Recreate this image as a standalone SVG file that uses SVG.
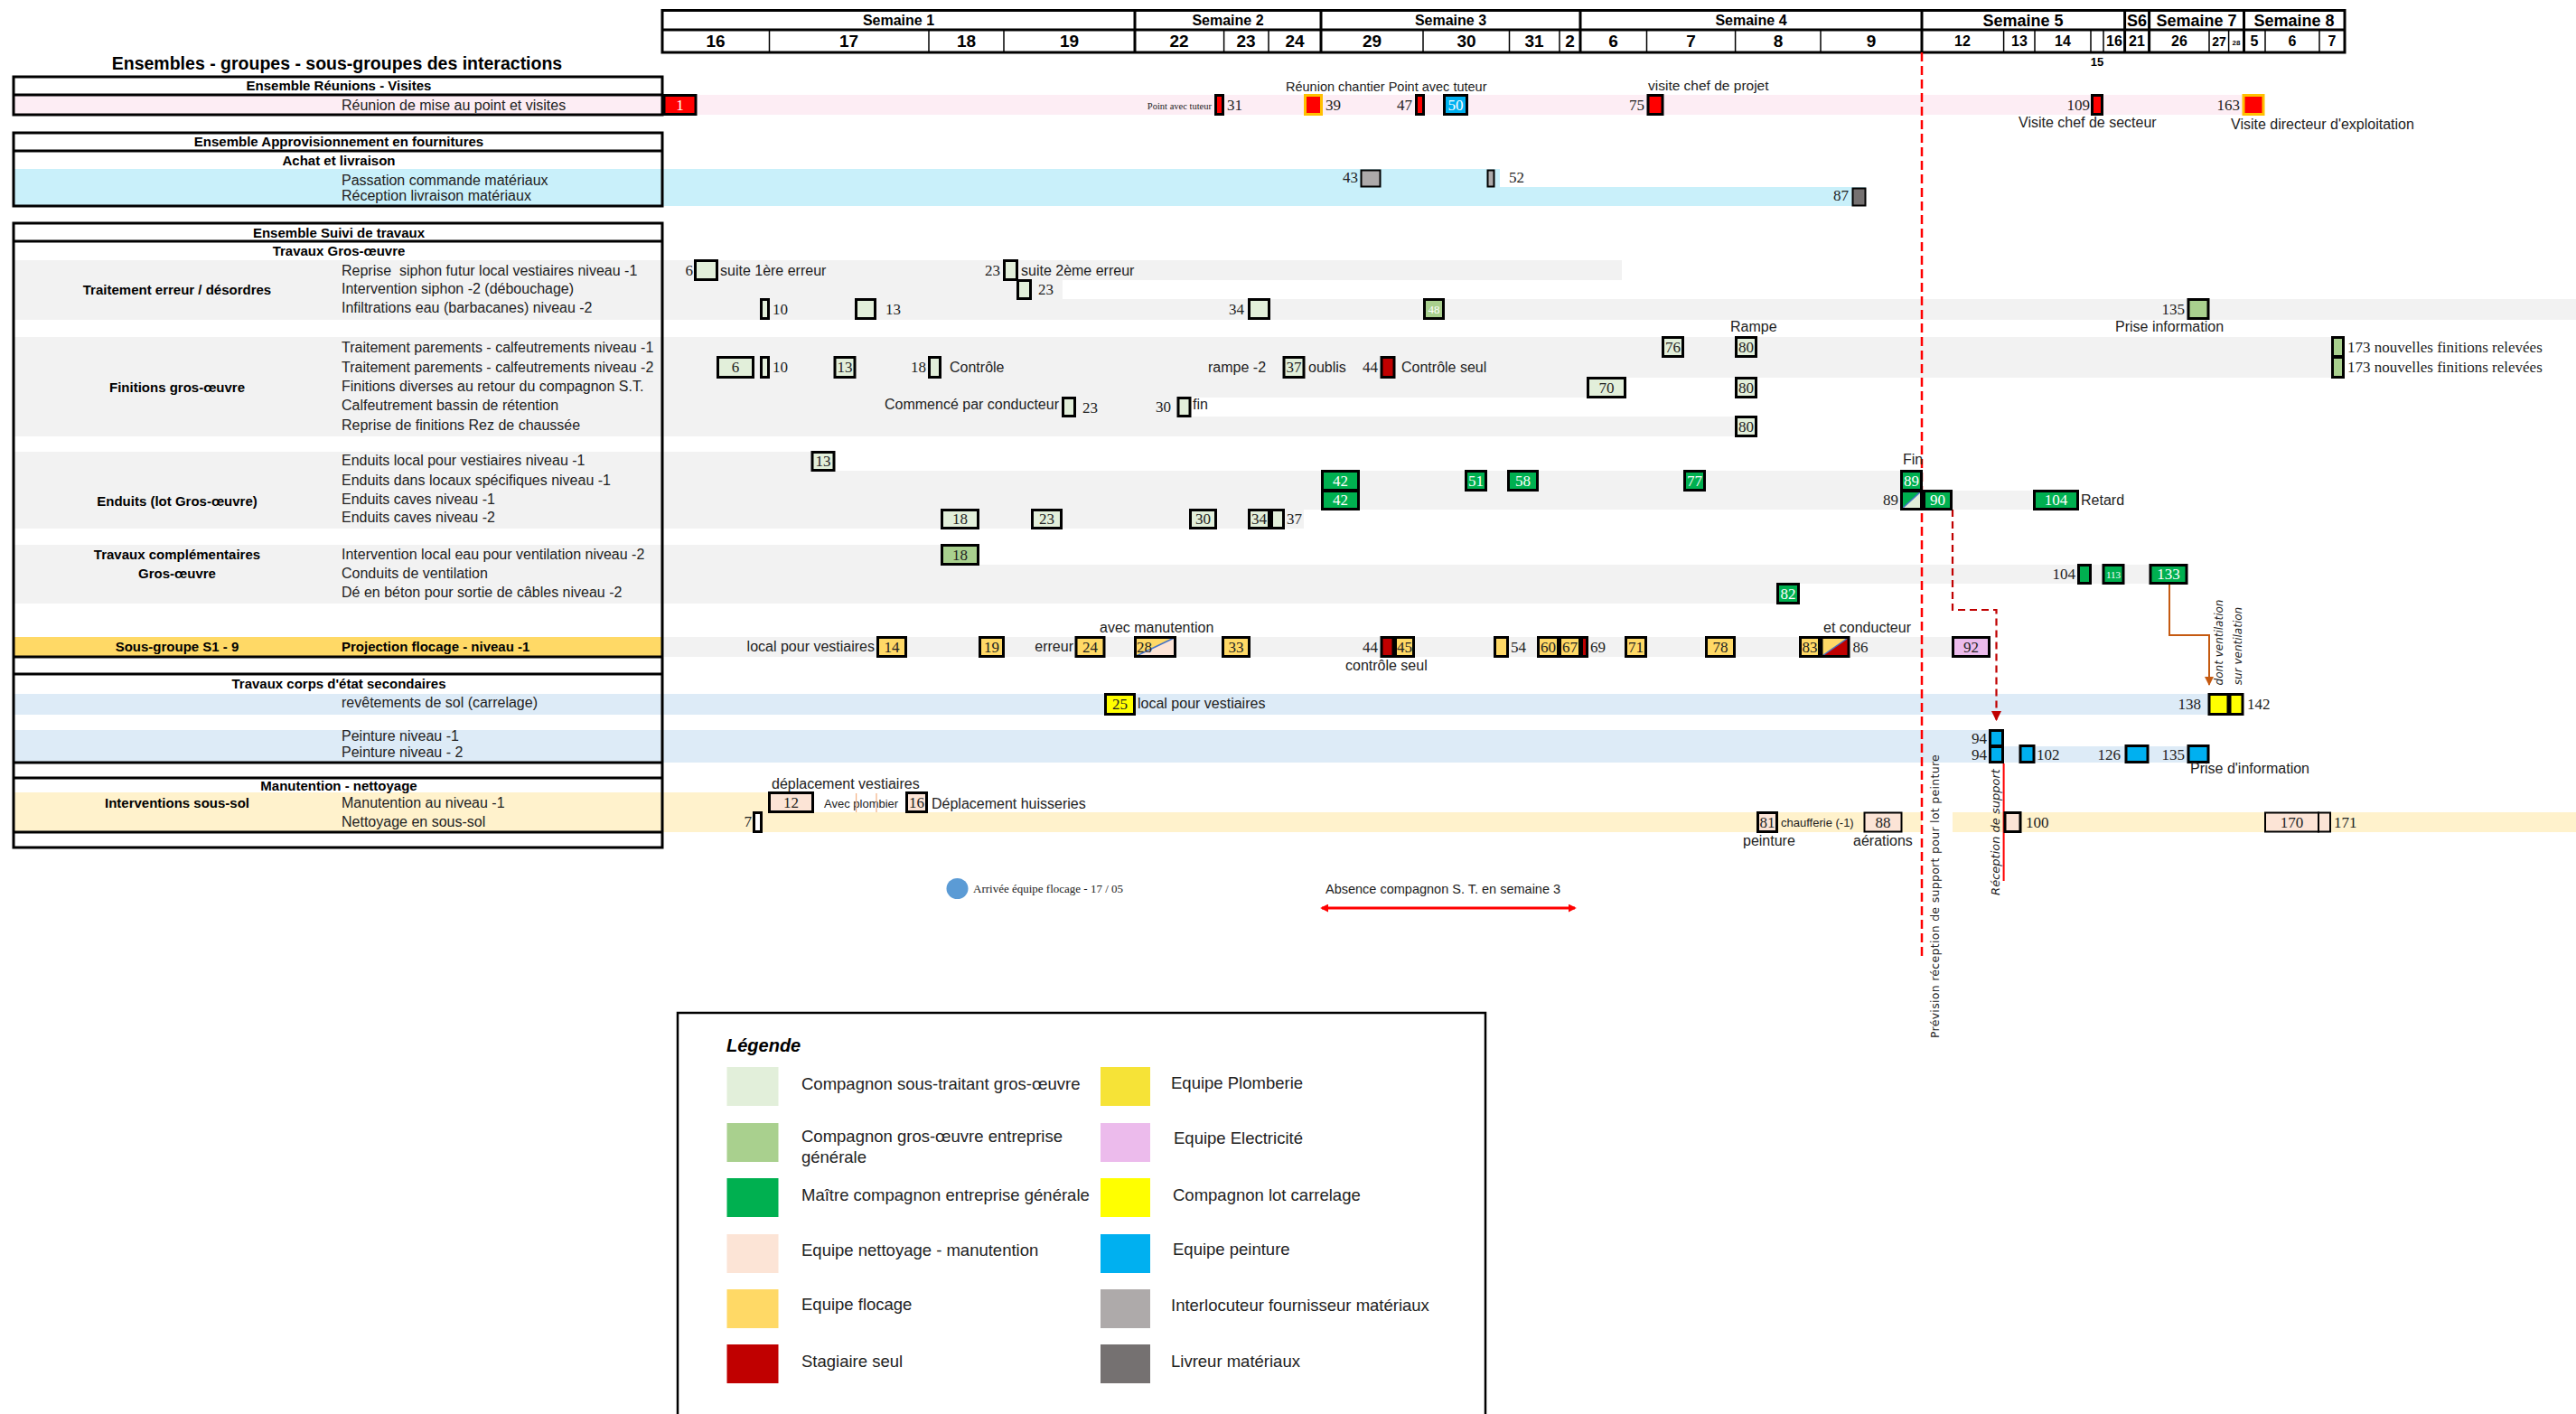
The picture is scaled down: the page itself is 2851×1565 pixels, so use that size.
<svg xmlns="http://www.w3.org/2000/svg" width="2851" height="1565" viewBox="0 0 2851 1565">
<defs>
<style>
.t{font-family:'Liberation Sans Narrow','Liberation Sans',Arial,sans-serif;font-size:16px;fill:#222}
.tb{font-family:'Liberation Sans Narrow','Liberation Sans',Arial,sans-serif;font-weight:bold;font-size:15px;fill:#000}
.n{font-family:'Liberation Serif','Times New Roman',serif;font-size:17px;fill:#222}
.nw{font-family:'Liberation Serif','Times New Roman',serif;font-size:17px;fill:#fff}
.m{text-anchor:middle}.e{text-anchor:end}
.rot{font-family:'DejaVu Sans',Verdana,sans-serif;font-size:12px;fill:#222}
.bx{stroke:#000;stroke-width:3}
.b2{stroke:#000;stroke-width:2}
.lg{fill:#e2efda}.mg{fill:#a9d08e}.dg{fill:#00b050}.pe{fill:#fce4d6}.fl{fill:#ffd966}.sr{fill:#c00000}.rr{fill:#ff0000}.pb{fill:#f6e337}.el{fill:#ecbbec}.ca{fill:#ffff00}.pt{fill:#00b0f0}.gi{fill:#aeaaaa}.gd{fill:#757171}
.gb{fill:#f2f2f2}.bb{fill:#ddebf7}.cb{fill:#fff2cc}
.ln{stroke:#000;stroke-width:3}
.dl{stroke:#000;stroke-width:1.5}
</style>
<marker id="arDr" viewBox="0 0 10 10" refX="9" refY="5" markerWidth="5" markerHeight="5" orient="auto"><path d="M0,0 L10,5 L0,10 z" fill="#c00000"/></marker>
<marker id="arOr" viewBox="0 0 10 10" refX="9" refY="5" markerWidth="5" markerHeight="5" orient="auto"><path d="M0,0 L10,5 L0,10 z" fill="#c55a11"/></marker>
<marker id="arRd" viewBox="0 0 10 10" refX="8" refY="5" markerWidth="3" markerHeight="3" orient="auto-start-reverse"><path d="M0,0 L10,5 L0,10 z" fill="#ff0000"/></marker>
</defs>
<rect width="2851" height="1565" fill="#fff"/>

<!-- chart background bands -->
<g id="bands">
<rect x="733" y="105" width="1773" height="22" fill="#fdedf4"/>
<rect x="733" y="187" width="927" height="20" fill="#c9f0fa"/>
<rect x="733" y="207" width="1332" height="21" fill="#c9f0fa"/>
<rect x="733" y="288" width="1062" height="22" class="gb"/>
<rect x="733" y="310" width="443" height="21" class="gb"/>
<rect x="733" y="331" width="2118" height="23" class="gb"/>
<rect x="733" y="373" width="1862" height="45" class="gb"/>
<rect x="733" y="418" width="1067" height="22" class="gb"/>
<rect x="733" y="440" width="585" height="21" class="gb"/>
<rect x="733" y="461" width="1212" height="22" class="gb"/>
<rect x="733" y="500" width="191" height="21" class="gb"/>
<rect x="733" y="521" width="1395" height="22" class="gb"/>
<rect x="733" y="543" width="1517" height="21" class="gb"/>
<rect x="733" y="564" width="710" height="21" class="gb"/>
<rect x="733" y="603" width="350" height="22" class="gb"/>
<rect x="733" y="625" width="1646" height="21" class="gb"/>
<rect x="733" y="646" width="1259" height="22" class="gb"/>
<rect x="733" y="705" width="1470" height="22" class="gb"/>
<rect x="733" y="768" width="1711" height="23" class="bb"/>
<rect x="733" y="808" width="1485" height="18" class="bb"/>
<rect x="733" y="826" width="1712" height="18" class="bb"/>
<rect x="733" y="877" width="117" height="22" class="cb"/>
<rect x="733" y="899" width="1394" height="22" class="cb"/>
<rect x="2161" y="899" width="690" height="22" class="cb"/>
</g>

<!-- header timeline -->
<g id="timeline">
<rect x="733" y="11.5" width="1862" height="46.5" fill="#fff" stroke="#000" stroke-width="3"/>
<line x1="733" y1="33" x2="2595" y2="33" class="ln"/>
<g class="ln">
<line x1="1256" y1="11.5" x2="1256" y2="58"/><line x1="1462" y1="11.5" x2="1462" y2="58"/><line x1="1749" y1="11.5" x2="1749" y2="58"/><line x1="2127" y1="11.5" x2="2127" y2="58"/><line x1="2351.6" y1="11.5" x2="2351.6" y2="58"/><line x1="2378.6" y1="11.5" x2="2378.6" y2="58"/><line x1="2483.5" y1="11.5" x2="2483.5" y2="58"/>
</g>
<g class="dl">
<line x1="851.5" y1="33" x2="851.5" y2="58"/><line x1="1028" y1="33" x2="1028" y2="58"/><line x1="1111" y1="33" x2="1111" y2="58"/><line x1="1354.6" y1="33" x2="1354.6" y2="58"/><line x1="1404" y1="33" x2="1404" y2="58"/><line x1="1575" y1="33" x2="1575" y2="58"/><line x1="1670.5" y1="33" x2="1670.5" y2="58"/><line x1="1726" y1="33" x2="1726" y2="58"/><line x1="1822.5" y1="33" x2="1822.5" y2="58"/><line x1="1920.6" y1="33" x2="1920.6" y2="58"/><line x1="2015" y1="33" x2="2015" y2="58"/><line x1="2217.6" y1="33" x2="2217.6" y2="58"/><line x1="2252" y1="33" x2="2252" y2="58"/><line x1="2314" y1="33" x2="2314" y2="58"/><line x1="2328" y1="33" x2="2328" y2="58"/><line x1="2445" y1="33" x2="2445" y2="58"/><line x1="2466.6" y1="33" x2="2466.6" y2="58"/><line x1="2507" y1="33" x2="2507" y2="58"/><line x1="2567" y1="33" x2="2567" y2="58"/>
</g>
<g class="tb m" style="font-size:16px">
<text x="994.5" y="28">Semaine 1</text><text x="1359" y="28">Semaine 2</text><text x="1605.5" y="28">Semaine 3</text><text x="1938" y="28">Semaine 4</text>
</g>
<g class="tb m" style="font-size:18px">
<text x="2239" y="29">Semaine 5</text><text x="2365" y="29">S6</text><text x="2431" y="29">Semaine 7</text><text x="2539" y="29">Semaine 8</text>
</g>
<g class="tb m" style="font-size:19px">
<text x="792" y="52">16</text><text x="939.5" y="52">17</text><text x="1069.5" y="52">18</text><text x="1183.5" y="52">19</text><text x="1305" y="52">22</text><text x="1379" y="52">23</text><text x="1433" y="52">24</text><text x="1518.5" y="52">29</text><text x="1623" y="52">30</text><text x="1698" y="52">31</text><text x="1737.5" y="52">2</text><text x="1785.5" y="52">6</text><text x="1871.5" y="52">7</text><text x="1968" y="52">8</text><text x="2071" y="52">9</text>
</g>
<g class="tb m" style="font-size:16px">
<text x="2172" y="51">12</text><text x="2235" y="51">13</text><text x="2283" y="51">14</text><text x="2340" y="51">16</text><text x="2365" y="51">21</text><text x="2412" y="51">26</text><text x="2456" y="51" style="font-size:14px">27</text><text x="2475" y="50" style="font-size:8px">28</text><text x="2495" y="51">5</text><text x="2537" y="51">6</text><text x="2581" y="51">7</text>
</g>
<text x="2321" y="73" class="tb m" style="font-size:13px">15</text>
</g>

<!-- left panel -->
<g id="left-panel">
<text x="373" y="77" class="tb m" style="font-size:19.5px">Ensembles - groupes - sous-groupes des interactions</text>
<g id="ens-reunions">
<rect x="15" y="105" width="718" height="22" fill="#fdedf4"/>
<rect x="15" y="85" width="718" height="42" fill="none" class="ln"/>
<line x1="15" y1="105" x2="733" y2="105" class="ln"/>
<text x="375" y="100" class="tb m">Ensemble Réunions - Visites</text>
<text x="378" y="122" class="t">Réunion de mise au point et visites</text>
</g>
<g id="ens-appro">
<rect x="15" y="187" width="718" height="41" fill="#c9f0fa"/>
<rect x="15" y="147" width="718" height="81" fill="none" class="ln"/>
<line x1="15" y1="167" x2="733" y2="167" class="ln"/>
<text x="375" y="162" class="tb m">Ensemble Approvisionnement en fournitures</text>
<text x="375" y="183" class="tb m">Achat et livraison</text>
<text x="378" y="205" class="t">Passation commande matériaux</text>
<text x="378" y="222" class="t">Réception livraison matériaux</text>
</g>
<g id="ens-suivi">
<rect x="15" y="288" width="718" height="66" class="gb"/>
<rect x="15" y="373" width="718" height="110" class="gb"/>
<rect x="15" y="500" width="718" height="85" class="gb"/>
<rect x="15" y="603" width="718" height="65" class="gb"/>
<rect x="15" y="705" width="718" height="22" class="fl"/>
<rect x="15" y="768" width="718" height="23" class="bb"/>
<rect x="15" y="808" width="718" height="36" class="bb"/>
<rect x="15" y="877" width="718" height="44" class="cb"/>
<rect x="15" y="247" width="718" height="691" fill="none" class="ln"/>
<line x1="15" y1="267" x2="733" y2="267" class="ln"/>
<line x1="15" y1="727" x2="733" y2="727" class="ln"/>
<line x1="15" y1="746" x2="733" y2="746" class="ln"/>
<line x1="15" y1="844" x2="733" y2="844" class="ln"/>
<line x1="15" y1="861" x2="733" y2="861" class="ln"/>
<line x1="15" y1="921" x2="733" y2="921" class="ln"/>
<text x="375" y="263" class="tb m">Ensemble Suivi de travaux</text>
<text x="375" y="283" class="tb m">Travaux Gros-œuvre</text>
<text x="196" y="326" class="tb m">Traitement erreur / désordres</text>
<text x="196" y="434" class="tb m">Finitions gros-œuvre</text>
<text x="196" y="560" class="tb m">Enduits (lot Gros-œuvre)</text>
<text x="196" y="619" class="tb m">Travaux complémentaires</text>
<text x="196" y="640" class="tb m">Gros-œuvre</text>
<text x="196" y="721" class="tb m">Sous-groupe S1 - 9</text>
<text x="378" y="721" class="tb">Projection flocage - niveau -1</text>
<text x="375" y="762" class="tb m">Travaux corps d'état secondaires</text>
<text x="375" y="875" class="tb m">Manutention - nettoyage</text>
<text x="196" y="894" class="tb m">Interventions sous-sol</text>
<g class="t">
<text x="378" y="305" xml:space="preserve">Reprise  siphon futur local vestiaires niveau -1</text>
<text x="378" y="325">Intervention siphon -2 (débouchage)</text>
<text x="378" y="346">Infiltrations eau (barbacanes) niveau -2</text>
<text x="378" y="390">Traitement parements - calfeutrements niveau -1</text>
<text x="378" y="412">Traitement parements - calfeutrements niveau -2</text>
<text x="378" y="433">Finitions diverses au retour du compagnon S.T.</text>
<text x="378" y="454">Calfeutrement bassin de rétention</text>
<text x="378" y="476">Reprise de finitions Rez de chaussée</text>
<text x="378" y="515">Enduits local pour vestiaires niveau -1</text>
<text x="378" y="537">Enduits dans locaux spécifiques niveau -1</text>
<text x="378" y="558">Enduits caves niveau -1</text>
<text x="378" y="578">Enduits caves niveau -2</text>
<text x="378" y="619">Intervention local eau pour ventilation niveau -2</text>
<text x="378" y="640">Conduits de ventilation</text>
<text x="378" y="661">Dé en béton pour sortie de câbles niveau -2</text>
<text x="378" y="783">revêtements de sol (carrelage)</text>
<text x="378" y="820">Peinture niveau -1</text>
<text x="378" y="838">Peinture niveau - 2</text>
<text x="378" y="894">Manutention au niveau -1</text>
<text x="378" y="915">Nettoyage en sous-sol</text>
</g>
</g>
</g>

<!-- connectors -->
<g id="connectors" fill="none">
<line x1="2127" y1="58" x2="2127" y2="1062" stroke="#ff0000" stroke-width="2.5" stroke-dasharray="10,5"/>
<path d="M2161,564 V675 H2209.5 V797" stroke="#c00000" stroke-width="2.2" stroke-dasharray="8,5" marker-end="url(#arDr)"/>
<line x1="2217.6" y1="845" x2="2217.6" y2="975" stroke="#ff0000" stroke-width="2"/>
<path d="M2401,647 V703 H2445 V758" stroke="#c55a11" stroke-width="2" marker-end="url(#arOr)"/>
<line x1="1463" y1="1005" x2="1743" y2="1005" stroke="#ff0000" stroke-width="3" marker-start="url(#arRd)" marker-end="url(#arRd)"/>
</g>

<!-- Réunions row -->
<g id="reunions">
<g id="r1"><rect x="735" y="105.5" width="35" height="21" class="rr bx"/><text x="752.5" y="122" class="nw m">1</text></g>
<g id="r31"><text x="1341" y="121" class="n e" style="font-size:10.5px">Point avec tuteur</text><rect x="1345.5" y="105.5" width="8" height="21" class="rr bx"/><text x="1358" y="122" class="n">31</text></g>
<g id="r39"><text x="1423" y="101" class="t" style="font-size:14.5px">Réunion chantier Point avec tuteur</text><rect x="1444.5" y="105.5" width="18" height="21" class="rr" stroke="#ffc000" stroke-width="3"/><text x="1467" y="122" class="n">39</text></g>
<g id="r47"><text x="1563" y="122" class="n e">47</text><rect x="1567.5" y="105.5" width="8" height="21" class="rr bx"/></g>
<g id="r50"><rect x="1598.5" y="105.5" width="25" height="21" class="pt bx"/><text x="1611" y="122" class="nw m">50</text></g>
<g id="r75"><text x="1824" y="100" class="t" style="font-size:15.5px">visite chef de projet</text><text x="1820" y="122" class="n e">75</text><rect x="1824" y="105.5" width="16" height="21" class="rr bx"/></g>
<g id="r109"><text x="2313" y="122" class="n e">109</text><rect x="2315.5" y="105.5" width="11" height="21" class="rr bx"/><text x="2234" y="141" class="t">Visite chef de secteur</text></g>
<g id="r163"><text x="2479" y="122" class="n e">163</text><rect x="2483" y="105.5" width="22" height="21" class="rr" stroke="#ffc000" stroke-width="3"/><text x="2469" y="143" class="t">Visite directeur d'exploitation</text></g>
</g>

<!-- Approvisionnement -->
<g id="appro">
<g id="a43"><text x="1503" y="202" class="n e">43</text><rect x="1506.5" y="188.5" width="21" height="18" class="gi b2"/></g>
<g id="a52"><rect x="1646.5" y="188.5" width="7" height="18" class="gi b2"/><text x="1670" y="202" class="n">52</text></g>
<g id="a87"><text x="2046" y="222" class="n e">87</text><rect x="2050.5" y="208.5" width="14" height="19" class="gd b2"/></g>
</g>

<!-- Traitement erreur -->
<g id="traitement">
<g id="t6"><text x="767" y="305" class="n e">6</text><rect x="769.5" y="288.5" width="24" height="21" class="lg bx"/><text x="797" y="305" class="t">suite 1ère erreur</text></g>
<g id="t23a"><text x="1107" y="305" class="n e">23</text><rect x="1111.5" y="288.5" width="14" height="21" class="lg bx"/><text x="1130" y="305" class="t">suite 2ème erreur</text></g>
<g id="t23b"><rect x="1126.5" y="310.5" width="14" height="20" class="lg bx"/><text x="1149" y="326" class="n">23</text></g>
<g id="t10"><rect x="842.5" y="331.5" width="8" height="21" class="lg bx"/><text x="855" y="348" class="n">10</text></g>
<g id="t13"><rect x="947.5" y="331.5" width="21" height="21" class="lg bx"/><text x="980" y="348" class="n">13</text></g>
<g id="t34"><text x="1377" y="348" class="n e">34</text><rect x="1382.5" y="331.5" width="22" height="21" class="lg bx"/></g>
<g id="t48"><rect x="1576.5" y="331.5" width="21" height="21" class="mg bx"/><text x="1587" y="347" class="nw m" style="font-size:13px">48</text></g>
<g id="t135"><text x="2418" y="348" class="n e">135</text><rect x="2422" y="331.5" width="22" height="21" class="mg bx"/><text x="2341" y="367" class="t">Prise information</text></g>
</g>

<!-- Finitions -->
<g id="finitions">
<g id="f76"><rect x="1840.5" y="373.5" width="22" height="21" class="lg bx"/><text x="1851.5" y="390" class="n m">76</text></g>
<g id="f80a"><text x="1915" y="367" class="t">Rampe</text><rect x="1921.5" y="373.5" width="22" height="21" class="lg bx"/><text x="1932.5" y="390" class="n m">80</text></g>
<g id="f173a"><rect x="2581.5" y="373.5" width="12" height="21" class="mg bx"/><text x="2598" y="390" class="n">173 nouvelles finitions relevées</text></g>
<g id="f6"><rect x="794.5" y="395.5" width="39" height="22" class="lg bx"/><text x="814" y="412" class="n m">6</text></g>
<g id="f10"><rect x="842.5" y="395.5" width="8" height="22" class="lg bx"/><text x="855" y="412" class="n">10</text></g>
<g id="f13"><rect x="924" y="395.5" width="22" height="22" class="lg bx"/><text x="935" y="412" class="n m">13</text></g>
<g id="f18"><text x="1025" y="412" class="n e">18</text><rect x="1028.5" y="395.5" width="12" height="22" class="lg bx"/><text x="1051" y="412" class="t">Contrôle</text></g>
<g id="f37"><text x="1337" y="412" class="t">rampe -2</text><rect x="1421" y="395.5" width="22" height="22" class="lg bx"/><text x="1432" y="412" class="n m">37</text><text x="1448" y="412" class="t">oublis</text></g>
<g id="f44"><text x="1525" y="412" class="n e">44</text><rect x="1529" y="395.5" width="14" height="22" class="sr bx"/><text x="1551" y="412" class="t">Contrôle seul</text></g>
<g id="f173b"><rect x="2581.5" y="395.5" width="12" height="22" class="mg bx"/><text x="2598" y="412" class="n">173 nouvelles finitions relevées</text></g>
<g id="f70"><rect x="1757.5" y="418.5" width="41" height="21" class="lg bx"/><text x="1778" y="435" class="n m">70</text></g>
<g id="f80b"><rect x="1921.5" y="418.5" width="22" height="21" class="lg bx"/><text x="1932.5" y="435" class="n m">80</text></g>
<g id="f23"><text x="979" y="453" class="t">Commencé par conducteur</text><rect x="1176.5" y="440.5" width="13" height="20" class="lg bx"/><text x="1198" y="457" class="n">23</text></g>
<g id="f30"><text x="1296" y="456" class="n e">30</text><rect x="1304" y="440.5" width="13" height="20" class="lg bx"/><text x="1320" y="453" class="t">fin</text></g>
<g id="f80c"><rect x="1921.5" y="461.5" width="22" height="21" class="lg bx"/><text x="1932.5" y="478" class="n m">80</text></g>
</g>

<!-- Enduits -->
<g id="enduits">
<g id="e13"><rect x="899" y="500.5" width="24" height="20" class="lg bx"/><text x="911" y="516" class="n m">13</text></g>
<g id="e42a"><rect x="1463.5" y="521.5" width="40" height="21" class="dg bx"/><text x="1483.5" y="538" class="nw m">42</text></g>
<g id="e51"><rect x="1622.5" y="521.5" width="22" height="21" class="dg bx"/><text x="1633.5" y="538" class="nw m">51</text></g>
<g id="e58"><rect x="1669.5" y="521.5" width="32" height="21" class="dg bx"/><text x="1685.5" y="538" class="nw m">58</text></g>
<g id="e77"><rect x="1864.5" y="521.5" width="22" height="21" class="dg bx"/><text x="1875.5" y="538" class="nw m">77</text></g>
<g id="e89a"><text x="2106" y="514" class="t">Fin</text><rect x="2104.5" y="521.5" width="22" height="21" class="dg bx"/><text x="2115.5" y="538" class="nw m">89</text></g>
<g id="e42b"><rect x="1463.5" y="543.5" width="40" height="20" class="dg bx"/><text x="1483.5" y="559" class="nw m">42</text></g>
<g id="e89b"><text x="2101" y="559" class="n e">89</text><rect x="2104.5" y="543.5" width="22" height="20" class="dg"/><polygon points="2104.5,563.5 2126.5,543.5 2126.5,563.5" class="lg"/><line x1="2104.5" y1="563.5" x2="2126.5" y2="543.5" stroke="#4472c4" stroke-width="1.5"/><rect x="2104.5" y="543.5" width="22" height="20" fill="none" class="bx"/></g>
<g id="e90"><rect x="2129.5" y="543.5" width="30" height="20" class="dg bx"/><text x="2144.5" y="559" class="nw m">90</text></g>
<g id="e104"><rect x="2251.5" y="543.5" width="48" height="20" class="dg bx"/><text x="2275.5" y="559" class="nw m">104</text><text x="2303" y="559" class="t">Retard</text></g>
<g id="e18"><rect x="1042.5" y="564.5" width="40" height="20" class="lg bx"/><text x="1062.5" y="580" class="n m">18</text></g>
<g id="e23"><rect x="1142.5" y="564.5" width="32" height="20" class="lg bx"/><text x="1158.5" y="580" class="n m">23</text></g>
<g id="e30"><rect x="1317.5" y="564.5" width="28" height="20" class="lg bx"/><text x="1331.5" y="580" class="n m">30</text></g>
<g id="e34"><rect x="1382.5" y="564.5" width="22" height="20" class="lg bx"/><text x="1393.5" y="580" class="n m">34</text></g>
<g id="e37"><rect x="1407.5" y="564.5" width="13" height="20" class="lg bx"/><text x="1424" y="580" class="n">37</text></g>
</g>

<!-- Travaux complementaires -->
<g id="complementaires">
<g id="c18"><rect x="1042.5" y="603.5" width="40" height="21" class="mg bx"/><text x="1062.5" y="620" class="n m">18</text></g>
<g id="c104"><text x="2297" y="641" class="n e">104</text><rect x="2300.5" y="625.5" width="13" height="20" class="dg bx"/></g>
<g id="c113"><rect x="2328" y="625.5" width="22" height="20" class="dg bx"/><text x="2339" y="640" class="nw m" style="font-size:11px">113</text></g>
<g id="c133"><rect x="2380" y="625.5" width="40" height="20" class="dg bx"/><text x="2400" y="641" class="nw m">133</text></g>
<g id="c82"><rect x="1967.5" y="646.5" width="23" height="21" class="dg bx"/><text x="1979" y="663" class="nw m">82</text></g>
<text class="rot" style="font-style:italic" transform="translate(2460,711) rotate(-90)" text-anchor="middle">dont ventilation</text>
<text class="rot" style="font-style:italic" transform="translate(2481,715) rotate(-90)" text-anchor="middle">sur ventilation</text>
</g>

<!-- Flocage -->
<g id="flocage">
<text x="1217" y="700" class="t">avec manutention</text>
<text x="2018" y="700" class="t">et conducteur</text>
<g id="p14"><text x="968" y="721" class="t e">local pour vestiaires</text><rect x="971.5" y="705.5" width="31" height="21" class="fl bx"/><text x="987" y="722" class="n m">14</text></g>
<g id="p19"><rect x="1084.5" y="705.5" width="26" height="21" class="fl bx"/><text x="1097.5" y="722" class="n m">19</text></g>
<g id="p24"><text x="1188" y="721" class="t e">erreur</text><rect x="1191" y="705.5" width="31" height="21" class="fl bx"/><text x="1206.5" y="722" class="n m">24</text></g>
<g id="p28"><rect x="1256.5" y="705.5" width="44" height="21" class="fl"/><polygon points="1256.5,726.5 1300.5,705.5 1300.5,726.5" class="pe"/><line x1="1256.5" y1="726.5" x2="1300.5" y2="705.5" stroke="#4472c4" stroke-width="1.5"/><rect x="1256.5" y="705.5" width="44" height="21" fill="none" class="bx"/><text x="1258" y="722" class="n">28</text></g>
<g id="p33"><rect x="1353.5" y="705.5" width="29" height="21" class="fl bx"/><text x="1368" y="722" class="n m">33</text></g>
<g id="p45"><text x="1525" y="722" class="n e">44</text><rect x="1529" y="705.5" width="13" height="21" class="sr bx"/><rect x="1544.5" y="705.5" width="20" height="21" class="fl bx"/><text x="1554.5" y="722" class="n m">45</text><text x="1489" y="742" class="t">contrôle seul</text></g>
<g id="p54"><rect x="1654.5" y="705.5" width="14" height="21" class="fl bx"/><text x="1672" y="722" class="n">54</text></g>
<g id="p60"><rect x="1702.5" y="705.5" width="22" height="21" class="fl bx"/><text x="1713.5" y="722" class="n m">60</text></g>
<g id="p67"><rect x="1726.5" y="705.5" width="22" height="21" class="fl bx"/><text x="1737.5" y="722" class="n m">67</text><rect x="1750.5" y="705.5" width="6" height="21" class="sr bx"/><text x="1760" y="722" class="n">69</text></g>
<g id="p71"><rect x="1799.5" y="705.5" width="22" height="21" class="fl bx"/><text x="1810.5" y="722" class="n m">71</text></g>
<g id="p78"><rect x="1888.5" y="705.5" width="31" height="21" class="fl bx"/><text x="1904" y="722" class="n m">78</text></g>
<g id="p83"><rect x="1992.5" y="705.5" width="21" height="21" class="fl bx"/><text x="2003" y="722" class="n m">83</text></g>
<g id="p86"><rect x="2016" y="705.5" width="30" height="21" class="fl"/><polygon points="2016,726.5 2046,705.5 2046,726.5" class="sr"/><line x1="2016" y1="726.5" x2="2046" y2="705.5" stroke="#4472c4" stroke-width="1.5"/><rect x="2016" y="705.5" width="30" height="21" fill="none" class="bx"/><text x="2050.5" y="722" class="n">86</text></g>
<g id="p92"><rect x="2161.5" y="705.5" width="40" height="21" class="el bx"/><text x="2181.5" y="722" class="n m">92</text></g>
</g>

<!-- Carrelage -->
<g id="carrelage">
<g id="k25"><rect x="1223.5" y="768.5" width="32" height="22" class="ca bx"/><text x="1239.5" y="785" class="n m">25</text><text x="1259" y="784" class="t">local pour vestiaires</text></g>
<g id="k138"><text x="2436" y="785" class="n e">138</text><rect x="2445" y="768.5" width="21" height="22" class="ca bx"/><rect x="2468" y="768.5" width="14" height="22" class="ca bx"/><text x="2487" y="785" class="n">142</text></g>
</g>

<!-- Peinture -->
<g id="peinture">
<g id="w94a"><text x="2199" y="823" class="n e">94</text><rect x="2202.5" y="808.5" width="14" height="17" class="pt bx"/></g>
<g id="w94b"><text x="2199" y="841" class="n e">94</text><rect x="2202.5" y="826.5" width="14" height="17" class="pt bx"/></g>
<g id="w102"><rect x="2236" y="825.5" width="15" height="18" class="pt bx"/><text x="2254" y="841" class="n">102</text></g>
<g id="w126"><text x="2347" y="841" class="n e">126</text><rect x="2353" y="825.5" width="24" height="18" class="pt bx"/></g>
<g id="w135"><text x="2418" y="841" class="n e">135</text><rect x="2422" y="825.5" width="22" height="18" class="pt bx"/><text x="2424" y="856" class="t">Prise d'information</text></g>
<text class="rot" transform="translate(2146,992) rotate(-90)" text-anchor="middle" style="font-size:12.5px;letter-spacing:0.3px">Prévision réception de support pour lot peinture</text>
<text class="rot" style="font-style:italic;font-size:13px" transform="translate(2213,921) rotate(-90)" text-anchor="middle">Réception de support</text>
</g>

<!-- Manutention -->
<g id="manutention">
<g id="m12"><text x="854" y="873" class="t">déplacement vestiaires</text><rect x="851.5" y="877.5" width="48" height="21" class="pe bx"/><text x="875.5" y="894" class="n m">12</text></g>
<g id="m16"><text x="912" y="894" class="t" style="font-size:13px">Avec plombier</text><line x1="947.6" y1="878" x2="947.6" y2="899" stroke="#f4b183" stroke-width="1.2"/><line x1="970" y1="878" x2="970" y2="899" stroke="#f4b183" stroke-width="1.2"/><rect x="1003.5" y="877.5" width="22" height="21" class="pe bx"/><text x="1014.5" y="894" class="n m">16</text><text x="1031" y="895" class="t">Déplacement huisseries</text></g>
<g id="m7"><text x="832" y="915" class="n e">7</text><rect x="834.5" y="899.5" width="8" height="21" fill="#fff" class="bx"/></g>
<g id="m81"><rect x="1945.5" y="899.5" width="21" height="21" class="pe bx"/><text x="1956" y="916" class="n m">81</text><text x="1971" y="915" class="t" style="font-size:13px">chaufferie (-1)</text><text x="1929" y="936" class="t">peinture</text></g>
<g id="m88"><rect x="2063.5" y="899.5" width="41" height="21" class="pe b2"/><text x="2084" y="916" class="n m">88</text><text x="2051" y="936" class="t">aérations</text></g>
<g id="m100"><rect x="2219" y="899.5" width="17" height="21" class="pe bx"/><text x="2242" y="916" class="n">100</text></g>
<g id="m170"><rect x="2507" y="899.5" width="59" height="21" class="pe b2"/><text x="2536.5" y="916" class="n m">170</text><rect x="2566" y="899.5" width="13" height="21" class="pe b2"/><text x="2583" y="916" class="n">171</text></g>
</g>

<!-- bottom annotations -->
<g id="annot-flocage">
<ellipse cx="1059.5" cy="983.5" rx="12" ry="11.5" fill="#5b9bd5"/>
<text x="1077" y="988" class="n" style="font-size:13px">Arrivée équipe flocage - 17 / 05</text>
</g>
<g id="annot-absence">
<text x="1467" y="989" class="t" style="font-size:14.5px">Absence compagnon S. T. en semaine 3</text>
</g>

<!-- legend -->
<g id="legend">
<rect x="750" y="1121" width="894" height="460" fill="none" stroke="#000" stroke-width="2.5"/>
<text x="804" y="1164" class="t" style="font-size:20px;font-style:italic;font-weight:bold;fill:#000">Légende</text>
<rect x="804.5" y="1181" width="57" height="43" class="lg"/>
<rect x="804.5" y="1243" width="57" height="43" class="mg"/>
<rect x="804.5" y="1304" width="57" height="43" class="dg"/>
<rect x="804.5" y="1366" width="57" height="43" class="pe"/>
<rect x="804.5" y="1427" width="57" height="43" class="fl"/>
<rect x="804.5" y="1488" width="57" height="43" class="sr"/>
<rect x="1218" y="1181" width="55" height="43" class="pb"/>
<rect x="1218" y="1243" width="55" height="43" class="el"/>
<rect x="1218" y="1304" width="55" height="43" class="ca"/>
<rect x="1218" y="1366" width="55" height="43" class="pt"/>
<rect x="1218" y="1427" width="55" height="43" class="gi"/>
<rect x="1218" y="1488" width="55" height="43" class="gd"/>
<g class="t" style="font-size:18.5px">
<text x="887" y="1206">Compagnon sous-traitant gros-œuvre</text>
<text x="887" y="1264">Compagnon gros-œuvre entreprise</text>
<text x="887" y="1287">générale</text>
<text x="887" y="1329">Maître compagnon entreprise générale</text>
<text x="887" y="1390">Equipe nettoyage - manutention</text>
<text x="887" y="1450">Equipe flocage</text>
<text x="887" y="1513">Stagiaire seul</text>
<text x="1296" y="1205">Equipe Plomberie</text>
<text x="1299" y="1266">Equipe Electricité</text>
<text x="1298" y="1329">Compagnon lot carrelage</text>
<text x="1298" y="1389">Equipe peinture</text>
<text x="1296" y="1451">Interlocuteur fournisseur matériaux</text>
<text x="1296" y="1513">Livreur matériaux</text>
</g>
</g>
</svg>
